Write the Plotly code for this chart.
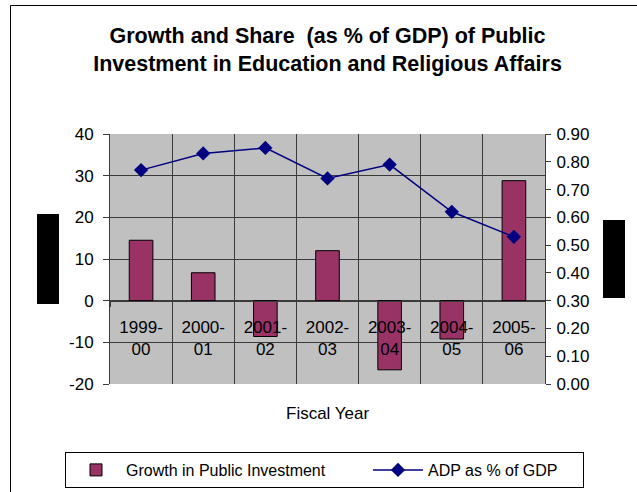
import plotly.graph_objects as go

# Fiscal years and the two series shown
years = ["1999-00", "2000-01", "2001-02", "2002-03", "2003-04", "2004-05", "2005-06"]
year_labels = ["1999-<br>00", "2000-<br>01", "2001-<br>02", "2002-<br>03",
               "2003-<br>04", "2004-<br>05", "2005-<br>06"]
growth_pct = [14.5, 6.7, -8.6, 12.0, -16.6, -9.2, 28.8]
adp_share_gdp = [0.77, 0.83, 0.85, 0.74, 0.79, 0.62, 0.53]

left_ticks = [-20, -10, 0, 10, 20, 30, 40]
left_tick_text = ["-20", "-10", "0", "10", "20", "30", "40"]
right_ticks = [0.0, 0.1, 0.2, 0.3, 0.4, 0.5, 0.6, 0.7, 0.8, 0.9]

FONT = "Arial, Liberation Sans, sans-serif"
GRID = "#3a3a3a"

W, H = 637, 492
ML, MR, MT, MB = 110, 92, 134, 108
PW, PH = W - ML - MR, H - MT - MB


def px_x(px):
    return (px - ML) / PW


def px_y(py):
    return (H - MB - py) / PH


fig = go.Figure()

fig.add_trace(go.Bar(
    x=years, y=growth_pct, name="Growth in Public Investment",
    marker=dict(color="#993366", line=dict(color="#000000", width=1)),
    yaxis="y",
    legendwidth=237,
))

fig.add_trace(go.Scatter(
    x=years, y=adp_share_gdp, name="ADP as % of GDP",
    mode="lines+markers",
    line=dict(color="#000080", width=1.5),
    marker=dict(symbol="diamond", size=11, color="#000080"),
    yaxis="y2",
    legendwidth=150,
))

# paper position of the zero line on the left axis
zero_pos = (0 - left_ticks[0]) / (left_ticks[-1] - left_ticks[0])

shapes = [
    # chart frame
    dict(type="rect", xref="paper", yref="paper",
         x0=px_x(10.5), x1=px_x(660), y0=px_y(5.5), y1=px_y(520),
         line=dict(color="#000000", width=1), fillcolor="rgba(0,0,0,0)"),
    # filled blocks beside the axes
    dict(type="rect", xref="paper", yref="paper",
         x0=px_x(37), x1=px_x(59), y0=px_y(304), y1=px_y(214),
         line=dict(width=0), fillcolor="#000000"),
    dict(type="rect", xref="paper", yref="paper",
         x0=px_x(603), x1=px_x(625), y0=px_y(298), y1=px_y(220),
         line=dict(width=0), fillcolor="#000000"),
]

fig.update_layout(
    width=W, height=H,
    margin=dict(l=ML, r=MR, t=MT, b=MB, autoexpand=False),
    paper_bgcolor="#ffffff",
    plot_bgcolor="#C0C0C0",
    font=dict(family=FONT, size=17, color="#000000"),
    bargap=0.62,
    showlegend=True,
    title=dict(
        text="Growth and Share  (as % of GDP) of Public<br>Investment in Education and Religious Affairs",
        x=0.5, xref="paper", xanchor="center",
        y=1 - 43 / H, yref="container", yanchor="middle",
        font=dict(family=FONT, size=21.5, color="#000000", weight="bold"),
    ),
    xaxis=dict(
        type="category",
        tickmode="array", tickvals=years, ticktext=year_labels,
        tickson="boundaries",
        showgrid=True, gridcolor=GRID, gridwidth=1,
        showline=True, linecolor=GRID, linewidth=1,
        ticks="outside", ticklen=5, tickcolor=GRID,
        anchor="free", position=zero_pos,
        ticklabelstandoff=11,
        range=[-0.5, 6.5],
    ),
    yaxis=dict(
        range=[left_ticks[0], left_ticks[-1]],
        tickmode="array", tickvals=left_ticks, ticktext=left_tick_text,
        showgrid=True, gridcolor=GRID, gridwidth=1,
        zeroline=True, zerolinecolor=GRID, zerolinewidth=1,
        showline=True, linecolor=GRID, linewidth=1,
        ticks="outside", ticklen=6, tickcolor=GRID,
        ticklabelstandoff=6,
    ),
    yaxis2=dict(
        range=[right_ticks[0], right_ticks[-1]],
        tickmode="array", tickvals=right_ticks, tickformat=".2f",
        overlaying="y", side="right",
        showgrid=False, zeroline=False,
        showline=True, linecolor=GRID, linewidth=1,
        ticks="outside", ticklen=5, tickcolor=GRID,
        ticklabelstandoff=2,
    ),
    legend=dict(
        orientation="h",
        x=px_x(65), xanchor="left",
        y=px_y(452), yanchor="top",
        bgcolor="#ffffff", bordercolor="#000000", borderwidth=1,
        font=dict(family=FONT, size=16),
        itemwidth=50,
        traceorder="normal",
    ),
    annotations=[
        dict(text="Fiscal Year", xref="paper", yref="paper",
             x=px_x(327), y=px_y(413), xanchor="center", yanchor="middle",
             showarrow=False, font=dict(family=FONT, size=17)),
    ],
    shapes=shapes,
)

fig.write_html("out.html")
